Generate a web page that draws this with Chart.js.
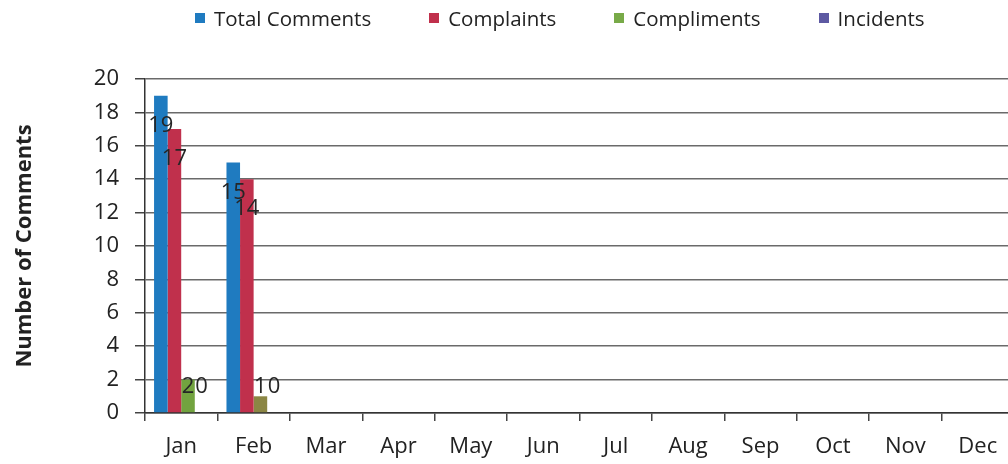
<!DOCTYPE html>
<html>
<head>
<meta charset="utf-8">
<script src="https://cdn.jsdelivr.net/npm/chart.js@4.4.1/dist/chart.umd.min.js"></script>
<style>
  html, body { margin: 0; padding: 0; background: #fff; overflow: hidden; }
  #wrap { position: relative; width: 1020px; height: 464px; }
  #legend { position: absolute; top: 4px; left: 195px; display: flex; font-family: "Open Sans"; font-size: 20.5px; color: #222; white-space: nowrap; }
  .item { display: flex; align-items: center; margin-right: 58px; }
  .box { width: 10px; height: 10px; margin-right: 9px; }
</style>
</head>
<body>
<div id="wrap">
  <div id="legend"></div>
  <canvas id="chart" width="1020" height="464"></canvas>
</div>
<script>
const months = ["Jan", "Feb", "Mar", "Apr", "May", "Jun", "Jul", "Aug", "Sep", "Oct", "Nov", "Dec"];
const totalComments = [19, 15, null, null, null, null, null, null, null, null, null, null];
const complaints = [17, 14, null, null, null, null, null, null, null, null, null, null];
const compliments = [2, 1, null, null, null, null, null, null, null, null, null, null];
const incidents = [0, 0, null, null, null, null, null, null, null, null, null, null];
const yTicks = [0, 2, 4, 6, 8, 10, 12, 14, 16, 18, 20];

const seriesNames = ["Total Comments", "Complaints", "Compliments", "Incidents"];
const seriesColors = ["#1f7bc0", "#c0304c", "#78aa48", "#5d59a2"];
const complimentBarColors = ["#72a33f", "#8b8644"];

const FONT = "Open Sans";

// html legend, positioned like the original
const legendEl = document.getElementById("legend");
seriesNames.forEach((name, i) => {
  const item = document.createElement("div");
  item.className = "item";
  const box = document.createElement("span");
  box.className = "box";
  box.style.background = seriesColors[i];
  const txt = document.createElement("span");
  txt.textContent = name;
  item.appendChild(box);
  item.appendChild(txt);
  legendEl.appendChild(item);
});

// value labels sitting just under the top of each bar
const valueLabels = {
  id: "valueLabels",
  afterDraw(chart) {
    const ctx = chart.ctx;
    const yScale = chart.scales.y;
    const floor = yScale.getPixelForValue(0) - 26;
    ctx.save();
    ctx.font = `22px "${FONT}"`;
    ctx.fillStyle = "#262626";
    ctx.textAlign = "center";
    ctx.textBaseline = "middle";
    chart.data.datasets.forEach((ds, di) => {
      const meta = chart.getDatasetMeta(di);
      meta.data.forEach((bar, i) => {
        const v = ds.data[i];
        if (v === null || v === undefined) return;
        const y = Math.min(bar.y + 30, floor);
        ctx.fillText(String(v), bar.x, y);
      });
    });
    ctx.restore();
  }
};

new Chart(document.getElementById("chart").getContext("2d"), {
  type: "bar",
  data: {
    labels: months,
    datasets: [
      { label: seriesNames[0], data: totalComments, backgroundColor: seriesColors[0] },
      { label: seriesNames[1], data: complaints, backgroundColor: seriesColors[1] },
      { label: seriesNames[2], data: compliments, backgroundColor: complimentBarColors },
      { label: seriesNames[3], data: incidents, backgroundColor: seriesColors[3] }
    ]
  },
  options: {
    responsive: false,
    animation: false,
    datasets: { bar: { categoryPercentage: 0.75, barPercentage: 1.0 } },
    layout: { padding: { top: 79, right: 6, bottom: 0, left: 0 } },
    plugins: { legend: { display: false }, tooltip: { enabled: false } },
    scales: {
      x: {
        afterFit: (scale) => { scale.height = 51; },
        grid: { drawOnChartArea: false, tickLength: 8, color: "#444", lineWidth: 1.5 },
        border: { color: "#333", width: 1.5 },
        ticks: { color: "#222", padding: 13, font: { family: FONT, size: 22 } }
      },
      y: {
        min: 0,
        max: 20,
        z: 1,
        afterBuildTicks: (scale) => { scale.ticks = yTicks.map(v => ({ value: v })); },
        afterFit: (scale) => { scale.width = 145; },
        grid: { color: "#6a6a6a", lineWidth: 1.5, tickLength: 10, tickColor: "#444" },
        border: { color: "#333", width: 1.5 },
        ticks: { color: "#222", padding: 16, font: { family: FONT, size: 22 } },
        title: {
          display: true,
          text: "Number of Comments",
          color: "#222",
          font: { family: FONT, size: 22, weight: "bold" },
          padding: { top: 12, bottom: 0 }
        }
      }
    }
  },
  plugins: [valueLabels]
});
</script>
</body>
</html>
